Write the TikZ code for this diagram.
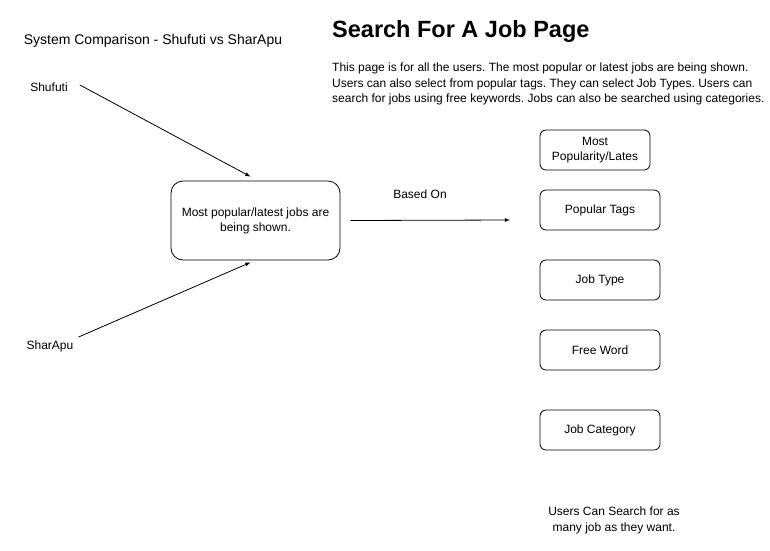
\documentclass[tikz,border=0pt]{standalone}
\usepackage{fontspec}
\setmainfont{Liberation Sans}
\usetikzlibrary{arrows}
\frenchspacing
\tikzset{%
	block/.style    = {draw, rectangle, rounded corners=6pt, minimum height = 40pt,
		minimum width = 120pt, align=center, inner sep=2pt, line width=0.8pt,
		font=\fontsize{12}{15}\selectfont},
	bigblock/.style = {block, rounded corners=12pt, minimum width = 169pt,
		minimum height = 79pt}, % main box
	note/.style     = {align=center, inner sep=0pt, font=\fontsize{12}{16}\selectfont}, % free text
	link/.style     = {-latex, line width=0.8pt} % connector
}

\begin{document}
\begin{tikzpicture}[x=1pt,y=-1pt]
			\useasboundingbox (0,0) rectangle (770,550);
			\node[note, font=\fontsize{14}{16}\selectfont] (caption) at (153,41) {System Comparison - Shufuti vs SharApu};
			\node[note, anchor=west, font=\bfseries\fontsize{23.5}{26}\selectfont] (title) at (332,31) {Search For A Job Page};
			\node[note, anchor=north west, align=left, font=\fontsize{12}{15.5}\selectfont] (intro) at (332,63)
				{This page is for all the users. The most popular or latest jobs are being shown.\\
				Users can also select from popular tags. They can select Job Types. Users can\\
				search for jobs using free keywords. Jobs can also be searched using categories.};
			
			\node[note] (shufuti) at (49,87) {Shufuti};
			\node[note] (sharapu) at (50,346) {SharApu};
			\node[bigblock] (main) at (255.5,220.5) {Most popular/latest jobs are\\being shown.};
			\node[note] (based) at (420,194) {Based On};
			\coordinate (basedend) at (510,220);
			
			\node[block, minimum width = 110pt] (latest) at (595,150) {Most\\Popularity/Lates};
			\node[block] (tags) at (600,210) {Popular Tags};
			\node[block] (type) at (600,280) {Job Type};
			\node[block] (free) at (600,350) {Free Word};
			\node[block] (category) at (600,430) {Job Category};
			
			\node[note] (unlimited) at (614,520) {Users Can Search for as\\many job as they want.};
			
			\draw[link] ([xshift=12pt,yshift=2pt]shufuti.east) -- ([xshift=-5pt,yshift=4pt]main.north);
			\draw[link] ([xshift=5pt,yshift=9pt]sharapu.east) -- ([xshift=-5pt,yshift=-2pt]main.south);
			\draw[link] ([xshift=10pt]main.east) -- (basedend);
		\end{tikzpicture}
\end{document}
